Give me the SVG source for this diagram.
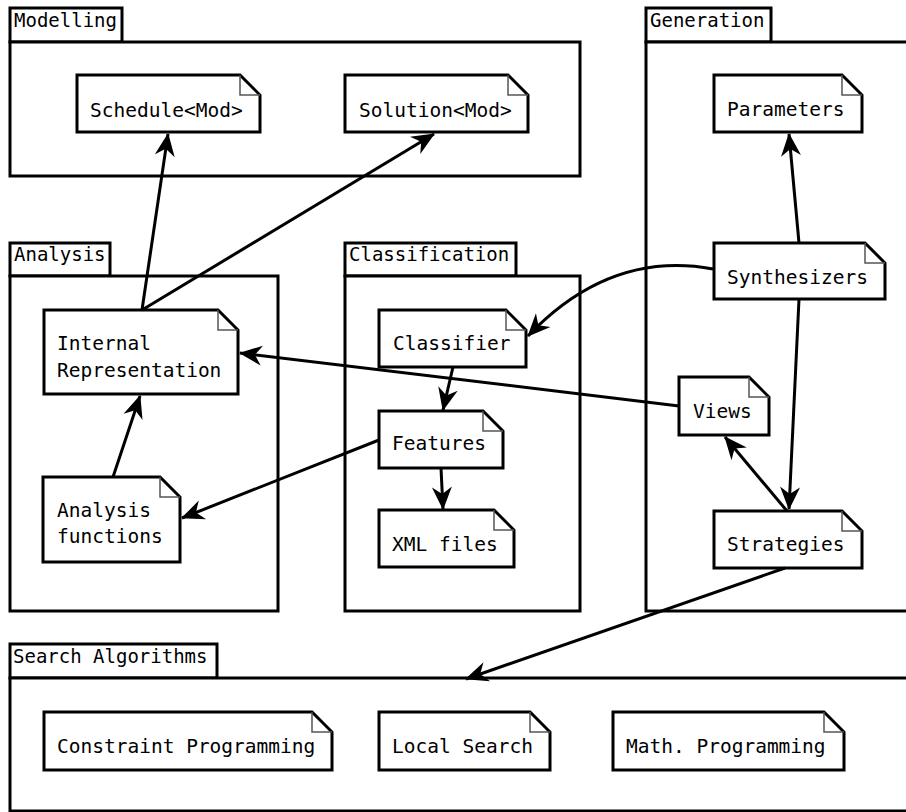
<svg xmlns="http://www.w3.org/2000/svg" width="906" height="812" viewBox="0 0 906 812">
<style>
.pkg{fill:#fff;stroke:#000;stroke-width:3}
.node{fill:#fff;stroke:#000;stroke-width:3;stroke-linejoin:miter}
.fold{fill:none;stroke:#555;stroke-width:1.5}
.t{font-family:"DejaVu Sans Mono","Liberation Mono",monospace;font-size:19.5px;fill:#000}
.tab{font-family:"DejaVu Sans Mono","Liberation Mono",monospace;font-size:19px;fill:#000}
.c{fill:none;stroke:#000;stroke-width:3}
</style>
<defs>
<marker id="ah" markerUnits="userSpaceOnUse" viewBox="-24 -12 26 24" refX="0" refY="0" markerWidth="26" markerHeight="24" orient="auto">
<path d="M1,0 L-22,-10 L-15,0 L-22,10 Z" fill="#000"/>
</marker>
</defs>
<rect width="906" height="812" fill="#fff"/>

<g id="pkg-modelling">
<rect class="pkg" x="10" y="8" width="112" height="34"/>
<rect class="pkg" x="10" y="42" width="570" height="134"/>
<text class="tab" x="14" y="27">Modelling</text>
</g>
<g id="pkg-generation">
<rect class="pkg" x="646" y="8" width="125" height="34"/>
<rect class="pkg" x="646" y="42" width="280" height="569"/>
<text class="tab" x="650" y="27">Generation</text>
</g>
<g id="pkg-analysis">
<rect class="pkg" x="10" y="243" width="100" height="33"/>
<rect class="pkg" x="10" y="276" width="268" height="335"/>
<text class="tab" x="14" y="261">Analysis</text>
</g>
<g id="pkg-classification">
<rect class="pkg" x="345" y="243" width="171" height="33"/>
<rect class="pkg" x="345" y="276" width="235" height="335"/>
<text class="tab" x="349" y="261">Classification</text>
</g>
<g id="pkg-search">
<rect class="pkg" x="10" y="644" width="207" height="34"/>
<rect class="pkg" x="10" y="678" width="916" height="133"/>
<text class="tab" x="13" y="663">Search Algorithms</text>
</g>

<g id="n-schedule">
<path class="node" d="M77,75 H240 L260,95 V132 H77 Z"/><path class="fold" d="M240,75 V95 H260"/>
<text class="t" x="90" y="117">Schedule&lt;Mod&gt;</text>
</g>
<g id="n-solution">
<path class="node" d="M345,75 H508 L528,95 V132 H345 Z"/><path class="fold" d="M508,75 V95 H528"/>
<text class="t" x="359" y="117">Solution&lt;Mod&gt;</text>
</g>
<g id="n-parameters">
<path class="node" d="M714,75 H842 L862,95 V132 H714 Z"/><path class="fold" d="M842,75 V95 H862"/>
<text class="t" x="727" y="116">Parameters</text>
</g>
<g id="n-synthesizers">
<path class="node" d="M714,243 H865 L885,263 V299 H714 Z"/><path class="fold" d="M865,243 V263 H885"/>
<text class="t" x="727" y="284">Synthesizers</text>
</g>
<g id="n-internal">
<path class="node" d="M44,310 H218 L238,330 V394 H44 Z"/><path class="fold" d="M218,310 V330 H238"/>
<text class="t" x="57" y="350">Internal</text>
<text class="t" x="57" y="377">Representation</text>
</g>
<g id="n-analysisfn">
<path class="node" d="M43,477 H160 L180,497 V562 H43 Z"/><path class="fold" d="M160,477 V497 H180"/>
<text class="t" x="57" y="517">Analysis</text>
<text class="t" x="57" y="543">functions</text>
</g>
<g id="n-classifier">
<path class="node" d="M379,310 H506 L526,330 V367 H379 Z"/><path class="fold" d="M506,310 V330 H526"/>
<text class="t" x="393" y="350">Classifier</text>
</g>
<g id="n-features">
<path class="node" d="M379,411 H483 L503,431 V468 H379 Z"/><path class="fold" d="M483,411 V431 H503"/>
<text class="t" x="392" y="450">Features</text>
</g>
<g id="n-xml">
<path class="node" d="M379,510 H494 L514,530 V567 H379 Z"/><path class="fold" d="M494,510 V530 H514"/>
<text class="t" x="392" y="551">XML files</text>
</g>
<g id="n-views">
<path class="node" d="M679,377 H749 L769,397 V435 H679 Z"/><path class="fold" d="M749,377 V397 H769"/>
<text class="t" x="693" y="418">Views</text>
</g>
<g id="n-strategies">
<path class="node" d="M714,511 H842 L862,531 V568 H714 Z"/><path class="fold" d="M842,511 V531 H862"/>
<text class="t" x="727" y="551">Strategies</text>
</g>
<g id="n-cp">
<path class="node" d="M44,712 H312 L332,732 V770 H44 Z"/><path class="fold" d="M312,712 V732 H332"/>
<text class="t" x="57" y="753">Constraint Programming</text>
</g>
<g id="n-ls">
<path class="node" d="M379,712 H530 L550,732 V770 H379 Z"/><path class="fold" d="M530,712 V732 H550"/>
<text class="t" x="392" y="753">Local Search</text>
</g>
<g id="n-mp">
<path class="node" d="M613,712 H824 L844,732 V770 H613 Z"/><path class="fold" d="M824,712 V732 H844"/>
<text class="t" x="626" y="753">Math. Programming</text>
</g>

<g id="connectors">
<path class="c" d="M142,310 L168,134" marker-end="url(#ah)"/>
<path class="c" d="M142,310 L434,134" marker-end="url(#ah)"/>
<path class="c" d="M113,477 L140,396" marker-end="url(#ah)"/>
<path class="c" d="M379,440 L182,518" marker-end="url(#ah)"/>
<path class="c" d="M453,367 L443,410" marker-end="url(#ah)"/>
<path class="c" d="M441,468 L443,509" marker-end="url(#ah)"/>
<path class="c" d="M679,406 L240,353" marker-end="url(#ah)"/>
<path class="c" d="M713,269 Q610,250 528,336" marker-end="url(#ah)"/>
<path class="c" d="M799,243 L789,134" marker-end="url(#ah)"/>
<path class="c" d="M799,299 L789,509" marker-end="url(#ah)"/>
<path class="c" d="M787,511 L725,437" marker-end="url(#ah)"/>
<path class="c" d="M785,568 L466,679" marker-end="url(#ah)"/>
</g>
</svg>
